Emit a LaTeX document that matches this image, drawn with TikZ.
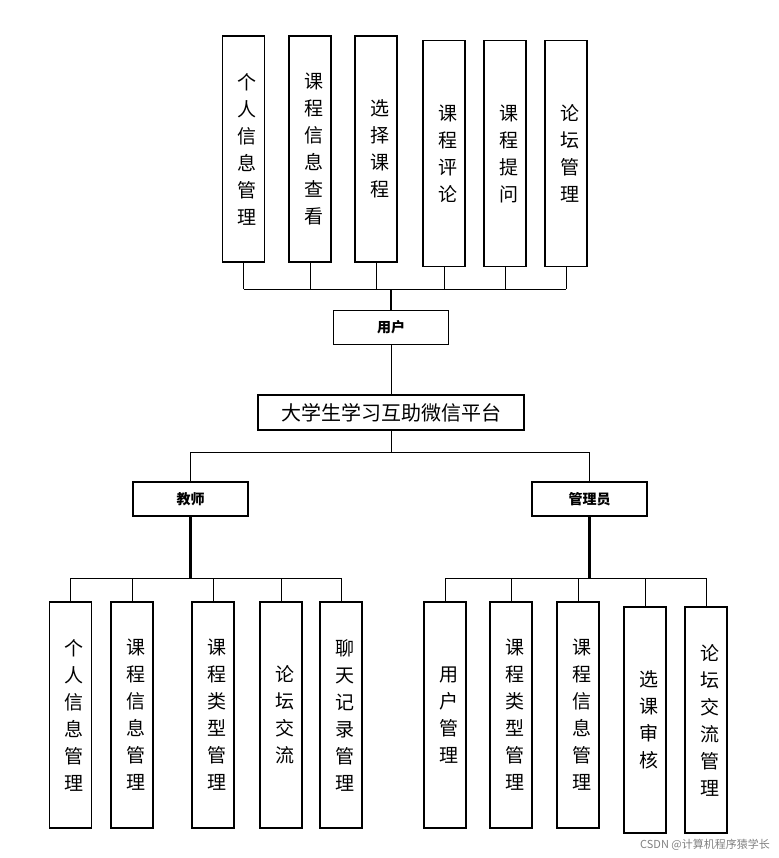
\documentclass[tikz,border=0pt]{standalone}
\usepackage{fontspec}
\setmainfont{Noto Sans CJK SC}
\begin{document}
\begin{tikzpicture}[x=1pt,y=-1pt,
  vbox/.style={draw,line width=1.2pt,minimum width=42pt,minimum height=226pt,inner sep=0pt,align=center,text width=1.2em,font=\fontsize{19}{27}\selectfont},
  lbox/.style={draw,line width=1.2pt,minimum width=115pt,minimum height=34pt,inner sep=0pt,font=\bfseries\fontsize{14}{16}\selectfont},
  ln/.style={line width=1pt},
  stem/.style={line width=2.2pt}]
\useasboundingbox (0,0) rectangle (778,858);
% top
\node[vbox] (t1) at (243.5,149) {个\\人\\信\\息\\管\\理};
\node[vbox] (t2) at (310,149) {课\\程\\信\\息\\查\\看};
\node[vbox] (t3) at (376,149) {选\\择\\课\\程};
\node[vbox] (t4) at (444,153.5) {课\\程\\评\\论};
\node[vbox] (t5) at (505,153.5) {课\\程\\提\\问};
\node[vbox] (t6) at (566,153.5) {论\\坛\\管\\理};
\node[lbox] (u) at (391,327.5) {用户};
\node[draw,line width=1.2pt,minimum width=266pt,minimum height=35pt,inner sep=0pt,font=\fontsize{20}{22}\selectfont] (m) at (391,412.5) {大学生学习互助微信平台};
\coordinate (tb) at (391,289);
\foreach \n in {t1,t2,t3,t4,t5,t6} \draw[ln] (\n.south) -- (\n.south |- tb);
\draw[ln] (t1.south |- tb) -- (t6.south |- tb);
\draw[stem] (tb) -- (u.north);
\draw[ln] (u.south) -- (m.north);
% middle
\node[lbox] (te) at (190.5,499) {教师};
\node[lbox] (ad) at (589.5,499) {管理员};
\coordinate (mb) at (391,452);
\draw[ln] (m.south) -- (mb);
\draw[ln] (te.north) -- (te.north |- mb) -- (ad.north |- mb) -- (ad.north);
% teacher
\node[vbox] (a1) at (70.5,715) {个\\人\\信\\息\\管\\理};
\node[vbox] (a2) at (132,715) {课\\程\\信\\息\\管\\理};
\node[vbox] (a3) at (213,715) {课\\程\\类\\型\\管\\理};
\node[vbox] (a4) at (281,715) {论\\坛\\交\\流};
\node[vbox] (a5) at (341,715) {聊\\天\\记\\录\\管\\理};
\coordinate (ab) at (190.5,578);
\draw[stem] (te.south) -- (ab);
\draw[ln] (a1.north |- ab) -- (a5.north |- ab);
\foreach \n in {a1,a2,a3,a4,a5} \draw[ln] (\n.north |- ab) -- (\n.north);
% admin
\node[vbox] (b1) at (445,715) {用\\户\\管\\理};
\node[vbox] (b2) at (511,715) {课\\程\\类\\型\\管\\理};
\node[vbox] (b3) at (578,715) {课\\程\\信\\息\\管\\理};
\node[vbox] (b4) at (645,720) {选\\课\\审\\核};
\node[vbox] (b5) at (706,720) {论\\坛\\交\\流\\管\\理};
\coordinate (bb) at (589.5,578);
\draw[stem] (ad.south) -- (bb);
\draw[ln] (b1.north |- bb) -- (b5.north |- bb);
\foreach \n in {b1,b2,b3,b4,b5} \draw[ln] (\n.north |- bb) -- (\n.north);
\node[anchor=east,text=gray,font=\fontsize{11}{13}\selectfont,inner sep=0pt] (wm) at (770,845) {CSDN @计算机程序猿学长};
\end{tikzpicture}
\end{document}
